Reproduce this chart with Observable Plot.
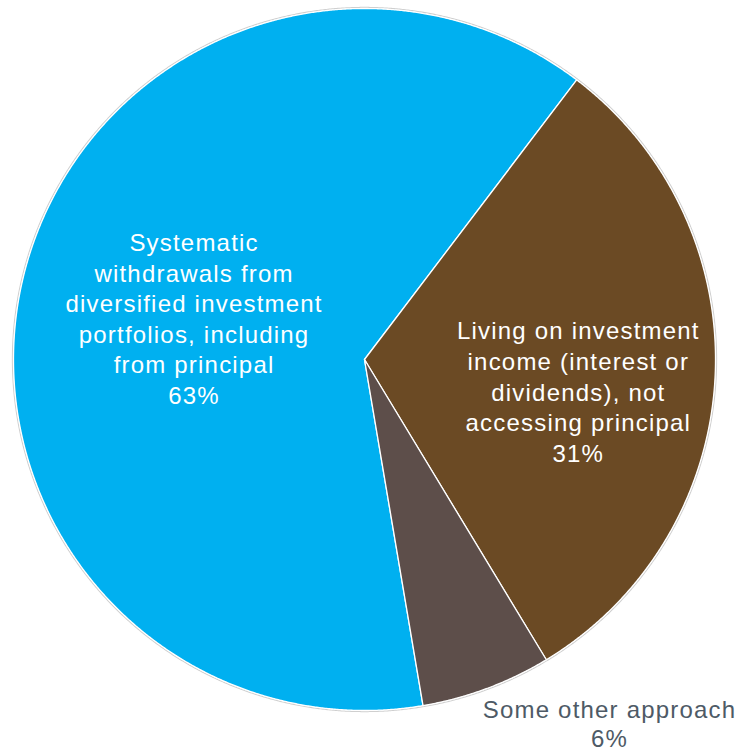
<!DOCTYPE html>
<html><head><meta charset="utf-8">
<script src="https://cdn.jsdelivr.net/npm/d3@7"></script>
<script src="https://cdn.jsdelivr.net/npm/@observablehq/plot@0.6"></script>
<style>
body{margin:0;background:#fff;}
#chart svg{display:block;}
</style>
</head><body><div id="chart"></div>
<script>
// ---- data ----
const categories = [
  "Systematic\nwithdrawals from\ndiversified investment\nportfolios, including\nfrom principal",
  "Living on investment\nincome (interest or\ndividends), not\naccessing principal",
  "Some other approach"
];
const values = [63, 31, 6];
const colors = ["#00B0F0", "#6B4A24", "#5D4E4A"];

// ---- layout ----
const W = 740, H = 753, CX = 364, CY = 359, R = 351;
const startDeg = 170.4;
const a0 = startDeg * Math.PI / 180;

const rows = categories.map((c, i) => ({category: c, value: values[i], index: i}));
const arcs = d3.pie().sort(null).value(d => d.value).startAngle(a0).endAngle(a0 + 2 * Math.PI)(rows);

const pt = (a, r) => [r * Math.sin(a), -r * Math.cos(a)];
function ringFor(s, e, r, withCenter) {
  const n = Math.max(2, Math.ceil((e - s) / 0.004));
  const ring = withCenter ? [[0, 0]] : [];
  for (let j = 0; j <= n; j++) ring.push(pt(s + (e - s) * j / n, r));
  ring.push(ring[0]);
  return ring;
}
const slices = arcs.map(a => ({
  type: "Feature",
  properties: a.data,
  geometry: {type: "Polygon", coordinates: [ringFor(a.startAngle, a.endAngle, 1, true)]}
}));
const outline = {type: "Feature", properties: {}, geometry: {type: "Polygon", coordinates: [ringFor(0, 2 * Math.PI, 1.003, false)]}};

const x0 = -CX / R, x1 = (W - CX) / R, y0 = -CY / R, y1 = (H - CY) / R;
const frameDomain = {type: "Polygon", coordinates: [[[x0, y0], [x1, y0], [x1, y1], [x0, y1], [x0, y0]]]};

const mid = a => (a.startAngle + a.endAngle) / 2;
const labelText = a => `${a.data.category}\n${a.data.value}%`;

const chart = Plot.plot({
  width: W,
  height: H,
  margin: 0,
  projection: {type: "identity", domain: frameDomain},
  color: {domain: categories, range: colors},
  style: {fontFamily: "'Liberation Sans', Arial, sans-serif", letterSpacing: "1.2px", background: "#fff"},
  marks: [
    Plot.geo([outline], {fill: "none", stroke: "#cfcfcf", strokeWidth: 1.2}),
    Plot.geo(slices, {fill: d => d.properties.category, stroke: "white", strokeWidth: 1.3}),
    Plot.text(arcs.filter(a => a.data.index === 0), {
      x: a => pt(mid(a), 0.5)[0], y: a => pt(mid(a), 0.5)[1],
      text: labelText, fill: "white", fontSize: 24, lineHeight: 1.275
    }),
    Plot.text(arcs.filter(a => a.data.index === 1), {
      x: a => pt(mid(a), 0.61)[0], y: a => pt(mid(a), 0.61)[1],
      text: labelText, fill: "white", fontSize: 24, lineHeight: 1.275, dy: 20
    }),
    Plot.text(arcs.filter(a => a.data.index === 2), {
      x: a => pt(mid(a), 1.12)[0], y: a => pt(mid(a), 1.12)[1],
      text: labelText, fill: "#4E5A66", fontSize: 24, lineHeight: 1.2, dx: 108, dy: -5
    })
  ]
});
document.getElementById("chart").appendChild(chart);
</script>
</body></html>
